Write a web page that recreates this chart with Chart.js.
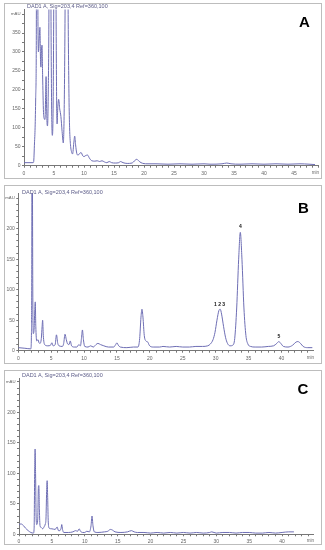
<!DOCTYPE html>
<html><head><meta charset="utf-8">
<script src="https://cdn.jsdelivr.net/npm/chart.js@4.4.1/dist/chart.umd.min.js"></script>
<style>
html,body{margin:0;padding:0;background:#fff;width:325px;height:550px;overflow:hidden;position:relative;font-family:"Liberation Sans",Arial,sans-serif}
.frame{position:absolute;left:4px;width:316px;border:1px solid #bdbdbd;background:#fff}
.frame canvas{position:absolute;left:0;top:0}
.ttl{position:absolute;font-size:5.5px;color:#5c5c88;white-space:nowrap;line-height:1}
.big{position:absolute;font-weight:bold;font-size:15px;color:#000;line-height:1}
</style></head><body>
<div class="frame" style="top:3px;height:174px"><canvas id="ca" width="316" height="174"></canvas></div>
<div class="frame" style="top:185px;height:177px"><canvas id="cb" width="316" height="177"></canvas></div>
<div class="frame" style="top:370px;height:173px"><canvas id="cc" width="316" height="173"></canvas></div>
<div class="ttl" style="left:27px;top:4px">DAD1 A, Sig=203,4 Ref=360,100</div>
<div class="ttl" style="left:22px;top:189.5px">DAD1 A, Sig=203,4 Ref=360,100</div>
<div class="ttl" style="left:22px;top:373px">DAD1 A, Sig=203,4 Ref=360,100</div>
<div class="big" style="left:299px;top:14px">A</div>
<div class="big" style="left:298px;top:200px">B</div>
<div class="big" style="left:297.5px;top:381px">C</div>
<script>
// ---- data: [retention time (min), absorbance (mAU)] ----
const chromA = [[0,8],[1.5,8],[1.6,9],[1.75,60],[1.85,100],[1.95,180],[2.05,330],[2.15,1200],[2.3,450],[2.4,300],[2.55,340],[2.65,365],[2.75,280],[2.82,260],[2.9,300],[3.0,318],[3.1,240],[3.25,140],[3.35,125],[3.5,122],[3.6,180],[3.68,235],[3.75,170],[3.85,110],[3.92,105],[4.05,200],[4.15,400],[4.3,1200],[4.5,400],[4.6,160],[4.72,80],[4.85,150],[4.95,400],[5.15,1200],[5.35,400],[5.45,150],[5.52,110],[5.62,150],[5.78,175],[5.95,150],[6.15,130],[6.35,90],[6.55,60],[6.7,150],[6.85,420],[7.1,1200],[7.35,420],[7.5,180],[7.6,100],[7.75,55],[7.95,35],[8.1,31],[8.3,60],[8.45,78],[8.6,55],[8.8,32],[9.0,28],[9.5,35],[9.8,26],[10.0,24],[10.3,27],[10.6,28],[10.9,20],[11.3,13],[11.8,12],[12.2,13],[12.6,11],[13.0,13],[13.4,10],[13.8,8],[14.2,11],[14.6,8],[15.2,7],[15.8,8],[16.1,11],[16.5,8],[17.2,6],[18.0,7],[18.5,14],[18.8,17],[19.1,13],[19.5,8],[20.5,5],[22,5],[24,4],[26,5],[28,4],[30,5],[31,4],[33,5],[33.8,7],[34.5,5],[36,4],[38,5],[40,4],[42,5],[44,4],[46,5],[47.5,4],[48.5,3]];
const chromB = [[0,5],[1,4],[1.9,3],[2.0,30],[2.05,150],[2.1,600],[2.15,300],[2.22,60],[2.28,28],[2.4,35],[2.5,65],[2.58,80],[2.66,40],[2.8,16],[3.0,18],[3.15,13],[3.3,12],[3.5,20],[3.62,40],[3.7,50],[3.8,25],[4.0,10],[4.5,8],[4.9,9],[5.1,13],[5.3,8],[5.6,10],[5.8,26],[6.0,12],[6.2,8],[6.7,7],[6.9,12],[7.1,27],[7.3,18],[7.5,11],[7.7,10],[7.9,16],[8.1,8],[8.5,6],[8.9,6],[9.2,10],[9.45,8],[9.6,20],[9.75,34],[9.9,18],[10.1,7],[10.6,6],[11.0,8],[11.4,6],[11.8,10],[12.1,12],[12.5,10],[13,8],[13.7,6],[14.5,6],[14.8,10],[15.0,13],[15.2,9],[15.5,6],[16.5,5],[17.5,6],[18.2,6],[18.45,20],[18.65,55],[18.8,68],[18.95,55],[19.15,25],[19.4,16],[19.7,14],[19.9,9],[20.5,6],[21.5,6],[22,7],[23,6],[24,7],[25,6],[26,6],[27,7],[28,7],[28.8,8],[29.2,11],[29.6,18],[29.9,30],[30.2,50],[30.5,66],[30.7,68],[30.9,60],[31.2,40],[31.5,22],[31.8,12],[32.2,8],[32.6,9],[32.9,20],[33.2,70],[33.5,150],[33.75,194],[34.0,150],[34.3,70],[34.6,25],[34.9,11],[35.3,7],[36,6],[37,6],[38,7],[38.8,8],[39.3,12],[39.6,15],[39.9,12],[40.3,7],[41,6],[41.7,9],[42.2,14],[42.5,15],[42.9,12],[43.3,7],[44,5],[44.7,5]];
const chromC = [[0,16],[0.3,17],[0.7,14],[1.0,10],[1.4,6],[1.8,3],[2.2,2],[2.3,10],[2.38,100],[2.45,140],[2.52,100],[2.6,30],[2.7,16],[2.85,25],[2.95,78],[3.02,80],[3.1,40],[3.2,14],[3.4,11],[3.6,9],[3.8,12],[4.0,17],[4.1,25],[4.2,70],[4.28,88],[4.36,60],[4.45,20],[4.6,10],[5.0,9],[5.5,8],[5.8,12],[6.0,6],[6.2,6],[6.4,10],[6.5,16],[6.62,8],[6.8,3],[7.5,3],[8.2,4],[8.6,6],[8.9,5],[9.15,9],[9.35,5],[9.7,3],[10.0,3],[10.3,5],[10.7,4],[10.95,14],[11.1,30],[11.25,14],[11.45,4],[12,3],[13,4],[13.5,5],[13.9,8],[14.2,7],[14.6,4],[15.5,3],[16.5,4],[17.1,6],[17.5,4],[18,3],[19,3],[20,2],[21,3],[22,2],[23,3],[24,2],[25,3],[26,2],[27,3],[28,2],[29,3],[29.3,4],[30,2],[31,3],[32,3],[33,2],[34,3],[35,3],[36,2],[37,2],[38,3],[39,2],[40,3],[41,4],[41.8,4]];

// tick labels
const xTickLabelsA = ['0','5','10','15','20','25','30','35','40','45'];
const xTickLabelsBC = ['0','5','10','15','20','25','30','35','40'];
const yTickLabelsA = ['0','50','100','150','200','250','300','350','mAU'];
const yTickLabelsBC = ['0','50','100','150','200','mAU'];

// peak annotations in B
const peakNamesB = ['1 2 3','4','5'];
const peakTimesB = [30.6,33.75,39.6];
const peakLevelsB = [75,203,23];

const FONT = '"Liberation Sans", Arial, sans-serif';
const LINE = '#6e6eb4';
const AXC = '#777';
const TICKC = '#666';

function makeChart(id, c) {
  const extra = {
    id: 'extra_' + id,
    afterDraw(chart) {
      const ctx = chart.ctx, a = chart.chartArea, xs = chart.scales.x, ys = chart.scales.y;
      ctx.save();
      ctx.fillStyle = TICKC;
      ctx.font = '4.5px ' + FONT;
      ctx.textAlign = 'right';
      ctx.textBaseline = 'middle';
      ctx.fillText('min', a.right + 1, a.bottom + c.minDy);
      if (c.peaks) {
        ctx.fillStyle = '#111';
        ctx.font = 'bold 5px ' + FONT;
        ctx.textAlign = 'center';
        c.peaks.names.forEach((n, i) => {
          ctx.fillText(n, xs.getPixelForValue(c.peaks.t[i]), ys.getPixelForValue(c.peaks.v[i]));
        });
      }
      ctx.restore();
    }
  };
  return new Chart(document.getElementById(id), {
    type: 'line',
    data: { datasets: [{
      data: c.data.map(p => ({x: p[0], y: p[1]})),
      borderColor: LINE, borderWidth: 1, pointRadius: 0,
      cubicInterpolationMode: 'monotone', fill: false
    }]},
    options: {
      responsive: false, animation: false, devicePixelRatio: 1,
      events: [],
      plugins: { legend: {display: false}, tooltip: {enabled: false} },
      layout: { padding: { top: c.padTop, right: c.padRight, left: 0, bottom: 0 } },
      scales: {
        x: {
          type: 'linear', min: 0, max: c.xMax,
          afterBuildTicks: s => { const t = []; for (let v = 0; v <= Math.floor(c.xMax); v++) t.push({value: v}); s.ticks = t; },
          afterFit: s => { s.height = c.xAxisH; s.paddingLeft = 0; s.paddingRight = 0; },
          ticks: { autoSkip: false, maxRotation: 0, minRotation: 0, padding: c.xPad,
                   font: {size: 5, family: FONT}, color: TICKC,
                   callback: v => (v % 5 === 0 && c.xLabels[v / 5] !== undefined) ? c.xLabels[v / 5] : '' },
          grid: { drawOnChartArea: false, drawTicks: true, tickLength: 2, tickColor: AXC },
          border: { display: true, color: AXC, width: 1 }
        },
        y: {
          type: 'linear', min: 0, max: c.yMax,
          afterBuildTicks: s => { const t = []; for (let v = 0; v <= c.yTop; v += c.yStep) t.push({value: v}); s.ticks = t; },
          afterFit: s => { s.width = c.yAxisW; s.paddingTop = 0; s.paddingBottom = 0; },
          ticks: { autoSkip: false, padding: 1.5, color: TICKC,
                   font: ctx => ({size: (ctx.tick && ctx.tick.value === c.yTop) ? 4.3 : 5, family: FONT}),
                   callback: v => (v % 50 === 0 && c.yLabels[v / 50] !== undefined) ? c.yLabels[v / 50] : '' },
          grid: { drawOnChartArea: false, drawTicks: true, tickLength: 2, tickColor: AXC },
          border: { display: true, color: AXC, width: 1 }
        }
      }
    },
    plugins: [extra]
  });
}

makeChart('ca', { data: chromA, xMax: 49, yMax: 412, yTop: 400, yStep: 25,
  xLabels: xTickLabelsA, yLabels: yTickLabelsA,
  yAxisW: 19, padRight: 3, padTop: 5.5, xAxisH: 12.3, xPad: 3, minDy: 7.3 });
makeChart('cb', { data: chromB, xMax: 44.8, yMax: 258, yTop: 250, yStep: 10,
  xLabels: xTickLabelsBC, yLabels: yTickLabelsBC,
  yAxisW: 13.3, padRight: 8, padTop: 7.3, xAxisH: 12.3, xPad: 2.7, minDy: 7.3,
  peaks: { names: peakNamesB, t: peakTimesB, v: peakLevelsB } });
makeChart('cc', { data: chromC, xMax: 44.7, yMax: 256, yTop: 250, yStep: 10,
  xLabels: xTickLabelsBC, yLabels: yTickLabelsBC,
  yAxisW: 14, padRight: 8, padTop: 7.3, xAxisH: 9.7, xPad: 2, minDy: 6.4 });
</script>
</body></html>
